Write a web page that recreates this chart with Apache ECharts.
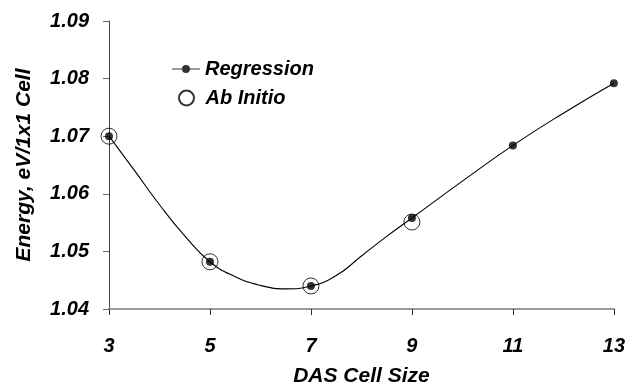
<!DOCTYPE html>
<html>
<head>
<meta charset="utf-8">
<script src="https://cdn.jsdelivr.net/npm/echarts@6/dist/echarts.min.js"></script>
<style>html,body{margin:0;padding:0;background:#fff}#c{width:628px;height:392px}</style>
</head>
<body>
<div id="c"></div>
<script>
// Data
const xTicks = [3, 5, 7, 9, 11, 13];
const regressionX = [3, 5, 7, 9, 11, 13];
const regressionY = [1.0700, 1.0482, 1.0440, 1.0558, 1.0684, 1.0792];
const abInitioX = [3, 5, 7, 9];
const abInitioY = [1.0700, 1.0482, 1.0440, 1.0551];
// Fitted regression curve
const curveX = [3, 3.5, 4, 4.5, 5, 5.5, 6, 6.5, 7, 7.5, 8, 8.5, 9, 10, 11, 12, 13];
const curveY = [1.0700, 1.0641, 1.0581, 1.0527, 1.0482, 1.0456, 1.0441, 1.0435, 1.0440, 1.0458, 1.0492, 1.0526, 1.0558, 1.0622, 1.0684, 1.0740, 1.0792];

const font = { fontFamily: 'Liberation Sans', fontWeight: 'bold', fontStyle: 'italic', color: '#000' };
const zip = (a, b) => a.map((v, i) => [v, b[i]]);

const chart = echarts.init(document.getElementById('c'), null, { renderer: 'canvas' });
chart.setOption({
  animation: false,
  backgroundColor: '#fff',
  grid: { left: 109, right: 14, top: 21, bottom: 77 },
  legend: [
    {
      data: [{ name: 'Regression', icon: 'path://M0,3.5H28V4.5H0Z M14,0A4,4 0 1 1 13.99,0Z' }],
      left: 172, top: 59, orient: 'vertical', padding: 0,
      itemWidth: 28, itemHeight: 8,
      textStyle: Object.assign({ fontSize: 20 }, font),
      selectedMode: false
    },
    {
      data: [{ name: 'Ab Initio', icon: 'circle' }],
      left: 178, top: 88, orient: 'vertical', padding: 0,
      itemWidth: 28, itemHeight: 15,
      textStyle: Object.assign({ fontSize: 20 }, font),
      selectedMode: false
    }
  ],
  xAxis: {
    type: 'value', min: 3, max: 13, interval: 2,
    name: 'DAS Cell Size', nameLocation: 'middle', nameGap: 57,
    nameTextStyle: Object.assign({ fontSize: 21 }, font),
    axisLine: { show: true, lineStyle: { color: '#999', width: 2 } },
    axisTick: { show: true, length: 6, lineStyle: { color: '#333', width: 1 } },
    axisLabel: Object.assign({ fontSize: 20, margin: 27 }, font),
    splitLine: { show: false }
  },
  yAxis: {
    type: 'value', min: 1.04, max: 1.09, interval: 0.01,
    name: 'Energy, eV/1x1 Cell', nameLocation: 'middle', nameGap: 74,
    nameTextStyle: Object.assign({ fontSize: 21 }, font),
    axisLine: { show: true, lineStyle: { color: '#444', width: 1 } },
    axisTick: { show: true, length: 6, lineStyle: { color: '#666', width: 1 } },
    axisLabel: Object.assign({ fontSize: 20, margin: 20, formatter: v => v.toFixed(2) }, font),
    splitLine: { show: false }
  },
  series: [
    {
      name: 'Ab Initio', type: 'scatter', symbol: 'circle', symbolSize: 16,
      itemStyle: { color: 'rgba(255,255,255,0)', borderColor: '#000', borderWidth: 1 },
      data: zip(abInitioX, abInitioY), z: 1
    },
    {
      name: 'curve', type: 'line', smooth: 0.5, showSymbol: false, symbol: 'none',
      lineStyle: { color: '#000', width: 1.1 }, silent: true,
      data: zip(curveX, curveY), z: 2
    },
    {
      name: 'Regression', type: 'scatter', symbol: 'circle', symbolSize: 8,
      itemStyle: { color: '#000' },
      data: zip(regressionX, regressionY), z: 3
    }
  ]
});
</script>
</body>
</html>
